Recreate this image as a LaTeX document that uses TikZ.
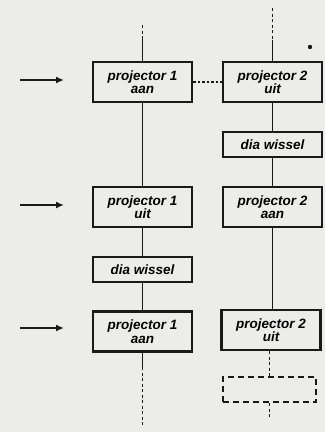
\documentclass[tikz,border=0pt]{standalone}
\usepackage{fontspec}
\newfontfamily\boxfont{Liberation Sans}
\usetikzlibrary{arrows.meta}
\definecolor{paper}{RGB}{236,236,233}
\definecolor{ink}{RGB}{25,25,25}
\tikzset{
  stepbox/.style={draw=ink, line width=2.2pt, minimum width=99pt, inner sep=1pt,
    align=center, font=\boxfont\bfseries\itshape\fontsize{13.5}{13.5}\selectfont},
  twoline/.style={stepbox, minimum height=40pt},
  oneline/.style={stepbox, minimum height=25pt},
  flow/.style={draw=ink, line width=1.8pt},
  loose/.style={draw=ink, line width=1.8pt, dash pattern=on 3pt off 2.5pt},
  cue/.style={draw=ink, line width=2.2pt, -{Latex[length=8pt,width=7pt]}}
}
\begin{document}
\begin{tikzpicture}[x=1pt, y=-1pt]
  \fill[paper] (0,0) rectangle (325,432);
  \useasboundingbox (0,0) rectangle (325,432);

  % left column
  \node[twoline] (p1aan) at (142.5,82) {projector 1\\aan};
  \node[twoline] (p1uit) at (142.5,207) {projector 1\\uit};
  \node[oneline] (p1dia) at (142.5,269.5) {dia wissel};
  \node[twoline] (p1aanb) at (142.5,331.5) {projector 1\\aan};

  % right column
  \node[twoline] (p2uit) at (272.5,82) {projector 2\\uit};
  \node[oneline] (p2dia) at (272.5,144.5) {dia wissel};
  \node[twoline] (p2aan) at (272.5,207) {projector 2\\aan};
  \node[twoline] (p2uitb) at (271,330) {projector 2\\uit};
  \node[draw=ink, line width=2pt, dash pattern=on 6pt off 4pt,
        minimum width=93pt, minimum height=25pt] (p2next) at (269.5,389.5) {};

  \coordinate (l0) at (142.5,25);
  \coordinate (l1) at (142.5,37);
  \coordinate (l2) at (142.5,367);
  \coordinate (l3) at (142.5,427);
  \coordinate (r0) at (272.5,8);
  \coordinate (r1) at (272.5,40);
  \coordinate (r2) at (269.5,417);

  \draw[loose] (l0) -- (l1);
  \draw[flow] (l1) -- (p1aan);
  \draw[flow] (p1aan) -- (p1uit);
  \draw[flow] (p1uit) -- (p1dia);
  \draw[flow] (p1dia) -- (p1aanb);
  \draw[flow] (p1aanb) -- (l2);
  \draw[loose] (l2) -- (l3);

  \draw[loose] (r0) -- (r1);
  \draw[flow] (r1) -- (p2uit);
  \draw[flow] (p2uit) -- (p2dia);
  \draw[flow] (p2dia) -- (p2aan);
  \draw[flow] (p2aan) -- (p2uitb.north -| p2aan);
  \draw[loose] (p2uitb.south -| p2next) -- (p2next);
  \draw[loose] (p2next) -- (r2);

  \draw[line width=1.8pt, draw=ink, dash pattern=on 2.5pt off 2pt] (p1aan) -- (p2uit);

  % cue arrows
  \foreach \y/\n in {80/a, 205/b, 328/c}{
    \coordinate (s\n) at (20,\y);
    \coordinate (e\n) at (64,\y);
    \draw[cue] (s\n) -- (e\n);
  }

  \fill[ink] (310,47) circle (2.2pt);
\end{tikzpicture}
\end{document}
